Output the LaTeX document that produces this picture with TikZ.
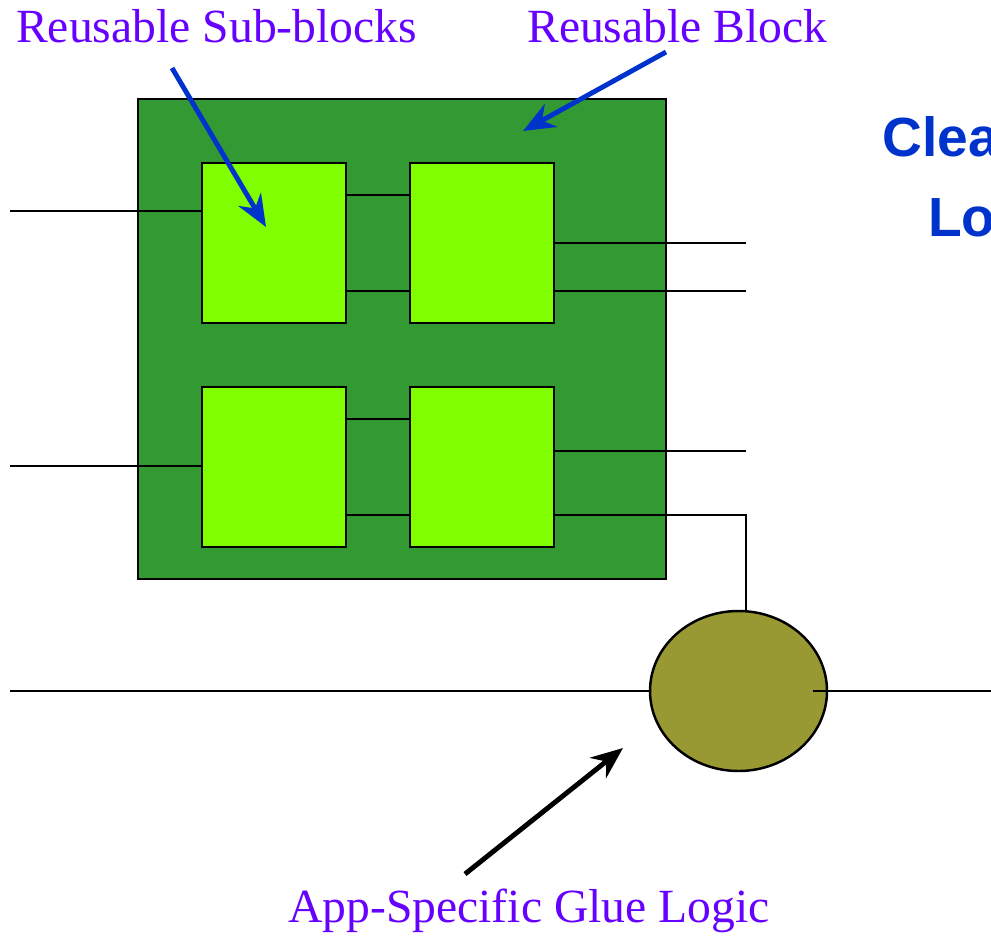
\documentclass[tikz,border=0pt]{standalone}
\usepackage{fontspec}
\setmainfont{Liberation Serif}
\newfontfamily\headfont{Liberation Sans}
\usetikzlibrary{positioning, shapes.geometric, arrows.meta}
\definecolor{blockgreen}{RGB}{51,153,51}
\definecolor{subgreen}{RGB}{128,255,0}
\definecolor{glueolive}{RGB}{153,153,51}
\definecolor{notepurple}{RGB}{102,0,255}
\definecolor{noteblue}{RGB}{0,51,204}
\tikzset{
every picture/.style={
line width=0.7pt
}}

\begin{document}
\begin{tikzpicture}[
block/.style = {rectangle, draw=black, fill=blockgreen, minimum width=5.28cm, minimum height=4.8cm, inner sep=0pt},
subblock/.style = {rectangle, draw=black, fill=subgreen, minimum width=1.44cm, minimum height=1.6cm, inner sep=0pt},
glue/.style = {ellipse, draw=black, fill=glueolive, minimum width=1.77cm, minimum height=1.6cm, inner sep=0pt},
note/.style = {text=notepurple, font=\fontsize{13.55}{16}\selectfont, inner sep=0pt, anchor=base west},
head/.style = {text=noteblue, font=\headfont\bfseries\fontsize{15.7}{18}\selectfont, inner sep=0pt, anchor=base west},
pointer/.style = {-{Stealth[length=3.2mm, width=2.6mm]}, line width=1.4pt},
node distance = 1cm]

\useasboundingbox (0,0) rectangle (9.91,9.35);

\begin{scope}[on grid]

  \node[block] (blk) at (4.02,5.96) {};
  \node[subblock] (tl) at (2.74,6.92) {};
  \node[subblock] (tr) [right=2.08 of tl] {};
  \node[subblock] (bl) [below=2.24 of tl] {};
  \node[subblock] (br) [right=2.08 of bl] {};
  \node[glue] (glue) at (7.385,2.44) {};

  \coordinate (in1) at (0.10,7.24);
  \coordinate (in2) at (0.10,4.69);
  \coordinate (bus_in) at (0.10,2.44);
  \coordinate (bus_out) at (9.91,2.44);
  \coordinate (out_edge) at (7.46,0);

  % inputs and links between the sub-blocks
  \draw (in1) -- (in1 -| tl.west);
  \draw (in2) -- (in2 -| bl.west);
  \draw ([yshift=0.48cm]tl.east) -- ([yshift=0.48cm]tr.west);
  \draw ([yshift=-0.48cm]tl.east) -- ([yshift=-0.48cm]tr.west);
  \draw ([yshift=0.48cm]bl.east) -- ([yshift=0.48cm]br.west);
  \draw ([yshift=-0.48cm]bl.east) -- ([yshift=-0.48cm]br.west);

  % outputs
  \draw (tr.east) -- (tr.east -| out_edge);
  \draw ([yshift=-0.48cm]tr.east) -- ([yshift=-0.48cm]tr.east -| out_edge);
  \draw ([yshift=0.16cm]br.east) -- ([yshift=0.16cm]br.east -| out_edge);
  \draw ([yshift=-0.48cm]br.east) -| (out_edge |- glue.north);

  \draw (bus_in) -- (glue.west);
  \draw ([xshift=-0.15cm]glue.east) -- (bus_out);

  \node[note] (sub_lbl) at (0.15,8.92) {Reusable Sub-blocks};
  \node[note] (blk_lbl) at (5.26,8.92) {Reusable Block};
  \node[note] (glue_lbl) at (2.87,0.13) {App-Specific Glue Logic};

  \node[head] (clea) at (8.81,7.78) {Clea};
  \node[head] (lo) at (9.27,6.98) {Lo};

  \coordinate (sub_tail) at (1.72,8.67);
  \coordinate (sub_tip) at (2.66,7.08);
  \coordinate (blk_tail) at (6.66,8.83);
  \coordinate (blk_tip) at (5.23,8.04);
  \coordinate (glue_tail) at (4.65,0.61);
  \coordinate (glue_tip) at (6.23,1.87);

  \draw[pointer, noteblue] (sub_tail) -> (sub_tip);
  \draw[pointer, noteblue] (blk_tail) -> (blk_tip);
  \draw[pointer] (glue_tail) -> (glue_tip);

\end{scope}
\end{tikzpicture}
\end{document}
